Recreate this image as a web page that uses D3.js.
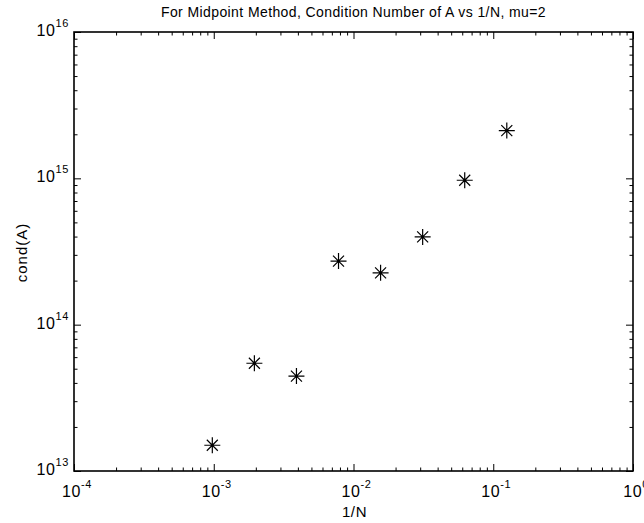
<script src="https://d3js.org/d3.v7.min.js"></script>

<style>
  body { margin: 0; background: #fff; }
  text { font-family: "Liberation Sans", Arial, sans-serif; fill: #000; }
</style>

<div id="container"></div>

<script>
// 1/N values and condition numbers
var invN = [1/1024, 1/512, 1/256, 1/128, 1/64, 1/32, 1/16, 1/8];
var condA = [1.5e13, 5.45e13, 4.45e13, 2.72e14, 2.26e14, 3.98e14, 9.7e14, 2.12e15];

var xExp = [-4, -3, -2, -1, 0];
var yExp = [13, 14, 15, 16];

var margin = { top: 32, left: 74, right: 11, bottom: 52 };
var W = 644, H = 523;
var width = W - margin.left - margin.right;
var height = H - margin.top - margin.bottom;

var svg = d3.select("#container").append("svg")
  .attr("width", W)
  .attr("height", H)
  .append("g")
  .attr("transform", "translate(" + margin.left + "," + margin.top + ")");

var xscale = d3.scaleLog().domain([1e-4, 1]).range([0, width]);
var yscale = d3.scaleLog().domain([1e13, 1e16]).range([height, 0]);

var xMajor = xExp.map(function (e) { return Math.pow(10, e); });
var yMajor = yExp.map(function (e) { return Math.pow(10, e); });
var xMinor = xscale.ticks().filter(function (v) { return Math.abs(Math.log10(v) % 1) > 1e-9; });
var yMinor = yscale.ticks().filter(function (v) { return Math.abs(Math.log10(v) % 1) > 1e-9; });

function styleAxis(g) {
  g.select(".domain").remove();
  g.selectAll(".tick line").attr("stroke", "#000").attr("stroke-width", 1);
}

// ticks on all four sides, pointing inward
svg.append("g").attr("transform", "translate(0," + height + ")")
  .call(d3.axisBottom(xscale).tickValues(xMinor).tickSize(-3.5).tickFormat("")).call(styleAxis);
svg.append("g").attr("transform", "translate(0," + height + ")")
  .call(d3.axisBottom(xscale).tickValues(xMajor).tickSize(-7).tickFormat("")).call(styleAxis);
svg.append("g")
  .call(d3.axisTop(xscale).tickValues(xMinor).tickSize(-3.5).tickFormat("")).call(styleAxis);
svg.append("g")
  .call(d3.axisTop(xscale).tickValues(xMajor).tickSize(-7).tickFormat("")).call(styleAxis);
svg.append("g")
  .call(d3.axisLeft(yscale).tickValues(yMinor).tickSize(-3.5).tickFormat("")).call(styleAxis);
svg.append("g")
  .call(d3.axisLeft(yscale).tickValues(yMajor).tickSize(-7).tickFormat("")).call(styleAxis);
svg.append("g").attr("transform", "translate(" + width + ",0)")
  .call(d3.axisRight(yscale).tickValues(yMinor).tickSize(-3.5).tickFormat("")).call(styleAxis);
svg.append("g").attr("transform", "translate(" + width + ",0)")
  .call(d3.axisRight(yscale).tickValues(yMajor).tickSize(-7).tickFormat("")).call(styleAxis);

// box
svg.append("rect")
  .attr("width", width).attr("height", height)
  .attr("fill", "none").attr("stroke", "#000").attr("stroke-width", 1.6);

// tick labels  10^k
function powLabel(sel, e) {
  sel.append("tspan").text("10");
  sel.append("tspan").attr("dy", -9).style("font-size", "11px").text(e);
}
xExp.forEach(function (e) {
  svg.append("text")
    .attr("x", xscale(Math.pow(10, e)) + 3)
    .attr("y", height + 26)
    .attr("text-anchor", "middle")
    .style("font-size", "16px")
    .style("letter-spacing", "0.6px")
    .call(powLabel, e);
});
yExp.forEach(function (e) {
  svg.append("text")
    .attr("x", -5)
    .attr("y", yscale(Math.pow(10, e)) + 4)
    .attr("text-anchor", "end")
    .style("font-size", "16px")
    .style("letter-spacing", "0.6px")
    .call(powLabel, e);
});

// labels
svg.append("text")
  .attr("x", width / 2).attr("y", -15)
  .attr("text-anchor", "middle")
  .style("font-size", "14px")
  .style("letter-spacing", "0.4px")
  .text("For Midpoint Method, Condition Number of A vs 1/N, mu=2");
svg.append("text")
  .attr("x", width / 2 + 1).attr("y", height + 46)
  .attr("text-anchor", "middle")
  .style("font-size", "15px")
  .style("letter-spacing", "0.6px")
  .text("1/N");
svg.append("text")
  .attr("transform", "translate(" + (-47) + "," + (height / 2 + 1) + ") rotate(-90)")
  .attr("text-anchor", "middle")
  .style("font-size", "15px")
  .style("letter-spacing", "1px")
  .text("cond(A)");

// asterisk markers
var star = "M-8,0H8M0,-8V8M-5.5,-5.5L5.5,5.5M-5.5,5.5L5.5,-5.5";
svg.append("g")
  .selectAll("path")
  .data(invN)
  .enter()
  .append("path")
    .attr("transform", function (d, i) { return "translate(" + xscale(d) + "," + yscale(condA[i]) + ")"; })
    .attr("d", star)
    .attr("stroke", "#000")
    .attr("stroke-width", 1.2)
    .attr("fill", "none");
</script>
